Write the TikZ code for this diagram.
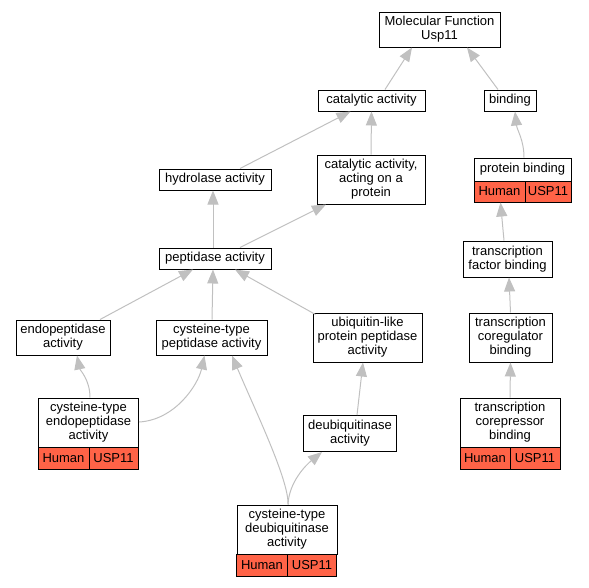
\documentclass[tikz,border=0pt]{standalone}
\usepackage{fontspec}
\setmainfont{Liberation Sans}
\usetikzlibrary{arrows.meta}
\definecolor{tagred}{HTML}{FF6347}
\definecolor{edgegray}{HTML}{C0C0C0}

\begin{document}
\begin{tikzpicture}[x=1pt,y=-1pt]
\tikzset{term/.style={draw, line width=1pt, fill=white, align=center, inner sep=0pt, font=\fontsize{13}{14}\selectfont}}
\tikzset{tag/.style={term, fill=tagred, minimum height=22pt}}
\tikzset{isa/.style={draw=edgegray, line width=1pt, -{Triangle[length=14pt,width=11pt]}}}
\useasboundingbox (0,0) rectangle (589,587);
% terms
\node[term, minimum width=121pt, minimum height=35pt] (mf) at (439.5,29.5) {Molecular Function\\Usp11};
\node[term, minimum width=107pt, minimum height=21pt] (cat) at (371.5,100.5) {catalytic activity};
\node[term, minimum width=52pt, minimum height=21pt] (bind) at (510,100.5) {binding};
\node[term, minimum width=112pt, minimum height=21pt] (hyd) at (215,179.5) {hydrolase activity};
\node[term, minimum width=108pt, minimum height=49pt] (catprot) at (371,179.5) {catalytic activity,\\acting on a\\protein};
\node[term, minimum width=97pt, minimum height=23pt] (protbind) at (522.5,169.5) {protein binding};
\node[tag, minimum width=51pt, minimum height=21pt] (protbind-h) at (499.5,191.5) {Human};
\node[tag, minimum width=46pt, minimum height=21pt] (protbind-u) at (548,191.5) {USP11};
\node[term, minimum width=112pt, minimum height=21pt] (pep) at (215,258.5) {peptidase activity};
\node[term, minimum width=89pt, minimum height=36pt] (tfbind) at (507.5,259) {transcription\\factor binding};
\node[term, minimum width=94pt, minimum height=35pt] (endo) at (63,337.5) {endopeptidase\\activity};
\node[term, minimum width=111pt, minimum height=35pt] (cyspep) at (211.5,337.5) {cysteine-type\\peptidase activity};
\node[term, minimum width=109pt, minimum height=49pt] (ubq) at (367.5,337.5) {ubiquitin-like\\protein peptidase\\activity};
\node[term, minimum width=83pt, minimum height=49pt] (coreg) at (510.5,337.5) {transcription\\coregulator\\binding};
\node[term, minimum width=100pt, minimum height=49pt] (cysendo) at (88.5,422.5) {cysteine-type\\endopeptidase\\activity};
\node[tag, minimum width=51pt] (cysendo-h) at (63.5,458) {Human};
\node[tag, minimum width=49pt] (cysendo-u) at (113.5,458) {USP11};
\node[term, minimum width=93pt, minimum height=36pt] (deub) at (350,433.5) {deubiquitinase\\activity};
\node[term, minimum width=100pt, minimum height=49pt] (corep) at (510,422.5) {transcription\\corepressor\\binding};
\node[tag, minimum width=50pt] (corep-h) at (485,458) {Human};
\node[tag, minimum width=50pt] (corep-u) at (535,458) {USP11};
\node[term, minimum width=100pt, minimum height=49pt] (cysdeub) at (287,529.5) {cysteine-type\\deubiquitinase\\activity};
\node[tag, minimum width=51pt] (cysdeub-h) at (262,565) {Human};
\node[tag, minimum width=49pt] (cysdeub-u) at (312,565) {USP11};
% is_a links
\draw[isa] ([xshift=13.5pt]cat.north) -- ([xshift=-27.5pt]mf.south);
\draw[isa] ([xshift=-12pt]bind.north) -- ([xshift=27.5pt]mf.south);
\draw[isa] ([xshift=25pt]hyd.north) -- ([xshift=-21pt]cat.south);
\draw[isa] (catprot.north) -- (cat.south);
\draw[isa] ([xshift=1.5pt]protbind.north) .. controls (524,140) and (517,130) .. ([xshift=5pt]bind.south);
\draw[isa] ([xshift=-2pt]pep.north) -- ([xshift=-2pt]hyd.south);
\draw[isa] ([xshift=25pt]pep.north) -- ([xshift=-45pt]catprot.south);
\draw[isa] ([xshift=-3.5pt]tfbind.north) -- ([xshift=1pt]protbind-h.south);
\draw[isa] ([xshift=37pt]endo.north) -- ([xshift=-22pt]pep.south);
\draw[isa] ([xshift=0.5pt]cyspep.north) -- ([xshift=-2pt]pep.south);
\draw[isa] ([xshift=-52pt,yshift=-2pt]ubq.north) -- ([xshift=20pt]pep.south);
\draw[isa] (coreg.north) -- ([xshift=1.5pt]tfbind.south);
\draw[isa] ([xshift=1.5pt]cysendo.north) .. controls (90,380) and (80,370) .. ([xshift=14pt]endo.south);
\draw[isa] ([yshift=0.5pt]cysendo.east) .. controls (175,420) and (198,385) .. ([xshift=-7pt]cyspep.south);
\draw[isa] ([xshift=7pt]deub.north) -- ([xshift=-4.5pt]ubq.south);
\draw[isa] (corep.north) -- (coreg.south);
\draw[isa] ([xshift=1pt]cysdeub.north) .. controls (289,482) and (306,465) .. ([xshift=-28pt]deub.south);
\draw[isa] ([xshift=1pt]cysdeub.north) .. controls (289,480) and (255,410) .. ([xshift=20.5pt]cyspep.south);
\end{tikzpicture}
\end{document}
